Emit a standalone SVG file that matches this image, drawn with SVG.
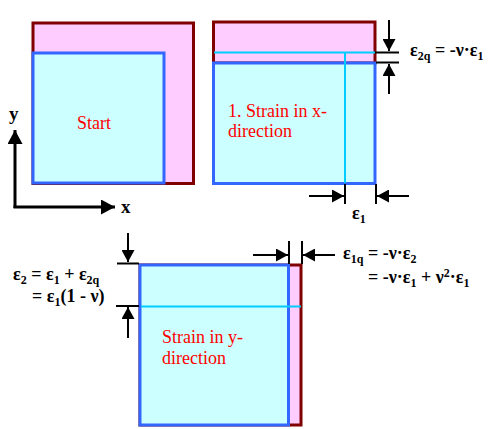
<svg xmlns="http://www.w3.org/2000/svg" width="499" height="429" viewBox="0 0 499 429">
<style>
.pink{fill:#FFCCFF;stroke:#800000;stroke-width:3}
.blue{fill:#CCFFFF;stroke:#3366FF;stroke-width:3}
.cy{stroke:#00CCFF;stroke-width:2;fill:none}
.ext{stroke:#000;stroke-width:2;fill:none}
.dim{stroke:#000;stroke-width:2;fill:none;marker-end:url(#ah)}
.axis{stroke:#000;stroke-width:3;fill:none;marker-end:url(#axh)}
.lbl{font-family:'Liberation Serif','DejaVu Serif','Times New Roman',serif;font-size:18px;fill:#FF0000}
.f{font-family:'Liberation Serif','DejaVu Serif','Times New Roman',serif;font-size:18px;font-weight:bold;fill:#000}
.sub{font-size:12px}
.ax{font-family:'Liberation Serif','DejaVu Serif','Times New Roman',serif;font-size:19px;font-weight:bold;fill:#000}
</style>
<defs>
<marker id="ah" markerUnits="userSpaceOnUse" markerWidth="12" markerHeight="13" refX="12" refY="6.5" orient="auto"><path d="M0,0 L12,6.5 L0,13 z" fill="#000"/></marker>
<marker id="axh" markerUnits="userSpaceOnUse" markerWidth="14" markerHeight="15" refX="14" refY="7.5" orient="auto"><path d="M0,0 L14,7.5 L0,15 z" fill="#000"/></marker>
</defs>

<g id="start">
<rect class="pink" x="33" y="23" width="160.5" height="160.5"/>
<rect class="blue" x="33" y="53" width="131" height="130"/>
<text class="lbl" x="77" y="129">Start</text>
</g>

<g id="axes">
<text class="ax" x="9" y="120">y</text>
<text class="ax" x="121" y="213">x</text>
</g>

<g id="strain-x">
<rect class="pink" x="213.5" y="22" width="161.5" height="41"/>
<rect class="blue" x="213.5" y="63" width="161.5" height="120.5"/>
<line class="cy" x1="214" y1="52.5" x2="375" y2="52.5"/>
<line class="cy" x1="345" y1="52.5" x2="345" y2="183"/>
<text class="lbl" x="228" y="117">1. Strain in x-</text>
<text class="lbl" x="228" y="137">direction</text>
</g>

<g id="strain-y">
<rect class="pink" x="140" y="265" width="161" height="160"/>
<rect class="blue" x="140" y="265" width="148.5" height="160"/>
<line class="cy" x1="141" y1="306.5" x2="301" y2="306.5"/>
<text class="lbl" x="162" y="343">Strain in y-</text>
<text class="lbl" x="162" y="364">direction</text>
</g>

<g id="labels">
<text class="f" x="410" y="56">ε<tspan class="sub" dy="4">2q</tspan><tspan dy="-4"> = -ν·ε</tspan><tspan class="sub" dy="4">1</tspan></text>
<text class="f" x="352" y="219">ε<tspan class="sub" dy="4">1</tspan></text>
<text class="f" x="13" y="280">ε<tspan class="sub" dy="4">2</tspan><tspan dy="-4"> = ε</tspan><tspan class="sub" dy="4">1</tspan><tspan dy="-4"> + ε</tspan><tspan class="sub" dy="4">2q</tspan></text>
<text class="f" x="32" y="302">= ε<tspan class="sub" dy="4">1</tspan><tspan dy="-4">(1 - ν)</tspan></text>
<text class="f" x="343" y="259">ε<tspan class="sub" dy="4">1q</tspan><tspan dy="-4"> = -ν·ε</tspan><tspan class="sub" dy="4">2</tspan></text>
<text class="f" x="368" y="283">= -ν·ε<tspan class="sub" dy="4">1</tspan><tspan dy="-4"> + ν</tspan><tspan class="sub" dy="-6">2</tspan><tspan dy="6">·ε</tspan><tspan class="sub" dy="4">1</tspan></text>
</g>

<g id="connectors">
<line class="axis" x1="15" y1="208" x2="15" y2="130"/>
<line class="axis" x1="13.5" y1="207" x2="115" y2="207"/>
<line class="ext" x1="375" y1="52.5" x2="399" y2="52.5"/>
<line class="ext" x1="376" y1="62.5" x2="399" y2="62.5"/>
<line class="dim" x1="389" y1="20" x2="389" y2="51"/>
<line class="dim" x1="389" y1="94" x2="389" y2="64"/>
<line class="ext" x1="345" y1="184" x2="345" y2="204"/>
<line class="ext" x1="376" y1="184" x2="376" y2="204"/>
<line class="dim" x1="309" y1="196" x2="344" y2="196"/>
<line class="dim" x1="409" y1="196" x2="377" y2="196"/>
<line class="ext" x1="117" y1="263.5" x2="139" y2="263.5"/>
<line class="ext" x1="116" y1="306" x2="139" y2="306"/>
<line class="dim" x1="128" y1="233" x2="128" y2="262"/>
<line class="dim" x1="128" y1="338" x2="128" y2="307"/>
<line class="ext" x1="289" y1="241" x2="289" y2="264"/>
<line class="ext" x1="302" y1="241" x2="302" y2="264"/>
<line class="dim" x1="253" y1="255" x2="288" y2="255"/>
<line class="dim" x1="335" y1="255" x2="303" y2="255"/>
</g>
</svg>
